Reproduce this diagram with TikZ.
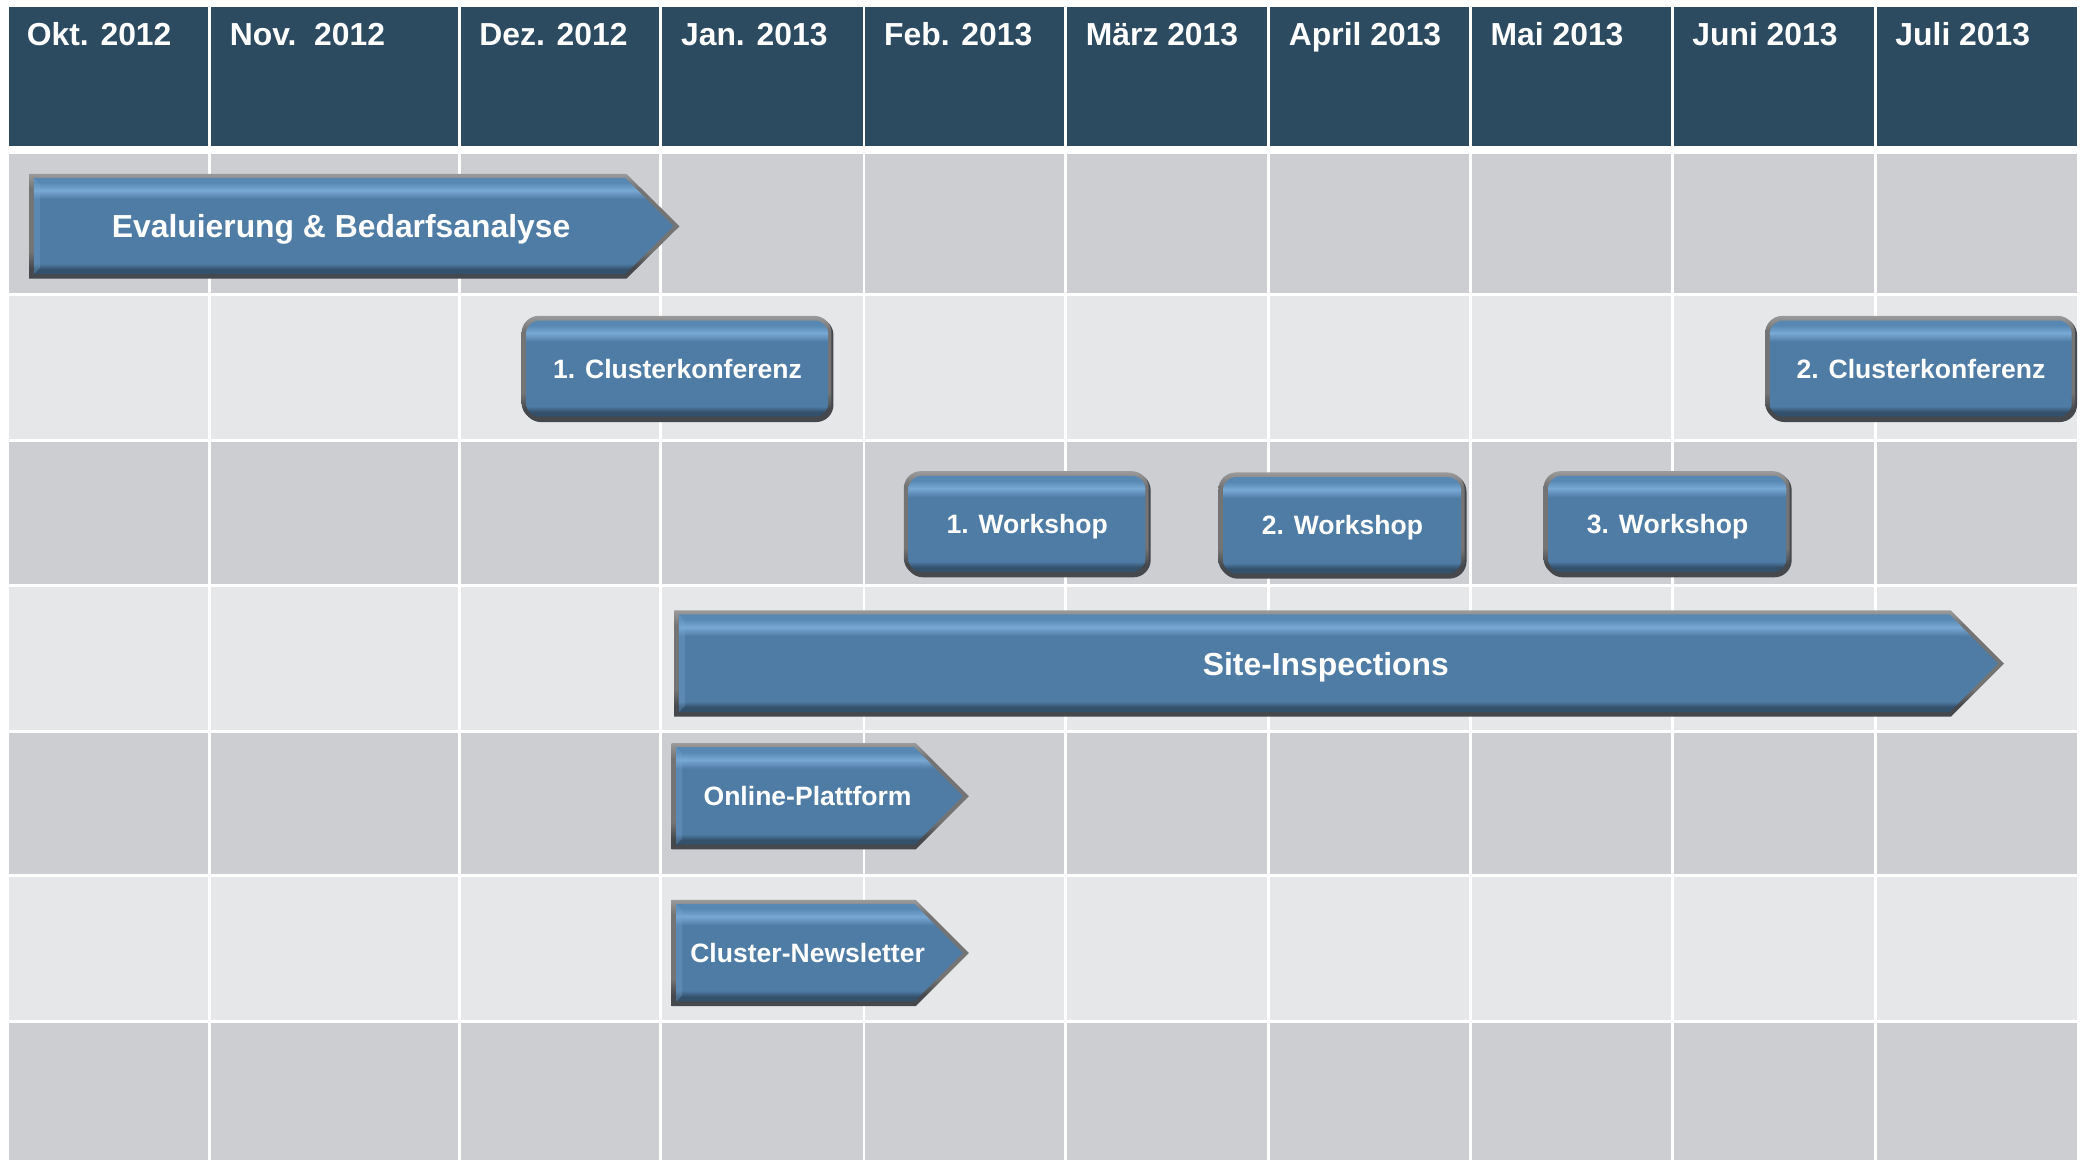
\documentclass[tikz,border=0pt]{standalone}
\usepackage{fontspec}
\setmainfont{Liberation Sans}
\definecolor{hdr}{HTML}{2C4A60}
\definecolor{rowA}{HTML}{CDCED2}
\definecolor{rowB}{HTML}{E6E7E9}
\definecolor{bvdark}{HTML}{34516C}
\definecolor{bvmain}{HTML}{4F7CA5}
\definecolor{bvlight}{HTML}{78A8D4}
\definecolor{bvtop}{HTML}{5787B3}
\definecolor{rimtop}{HTML}{9A9A9A}
\definecolor{rimmid}{HTML}{747474}
\definecolor{rimbot}{HTML}{45484D}
\pgfdeclareverticalshading{bevelfill}{100bp}{color(0bp)=(bvdark); color(25bp)=(bvdark); color(27.5bp)=(bvdark); color(30.5bp)=(bvmain); color(64bp)=(bvmain); color(68.5bp)=(bvlight); color(72.5bp)=(bvtop); color(75bp)=(bvtop); color(100bp)=(bvtop)}
\pgfdeclareverticalshading{rimfill}{100bp}{color(0bp)=(rimbot); color(25bp)=(rimbot); color(30bp)=(rimbot); color(38bp)=(rimmid); color(68bp)=(rimmid); color(75bp)=(rimtop); color(100bp)=(rimtop)}
\newcommand\chevshape[5]{% left, top, body end, tip, bottom
  \shade[shading=rimfill] (#1,#2) -- (#3,#2) -- (#4,{(#2+#5)/2}) -- (#3,#5) -- (#1,#5) -- cycle;
  \shade[shading=bevelfill] ({#1+3.5},{#2+3}) -- ({#3-1},{#2+3}) -- ({#4-4.5},{(#2+#5)/2}) -- ({#3-1},{#5-3.5}) -- ({#1+3.5},{#5-3.5}) -- cycle;
  \fill[bvlight, opacity=.3] ({#1+3.5},{#2+3}) -- ({#1+8},{#2+8}) -- ({#1+8},{#5-8}) -- ({#1+3.5},{#5-3.5}) -- cycle;
}
\newcommand\rbox[4]{% left, top, right, bottom
  \fill[rimbot, rounded corners=13pt] ({#1+1.5},{#2+1.5}) rectangle (#3,#4);
  \shade[shading=rimfill, rounded corners=13pt] (#1,#2) rectangle ({#3-1.5},{#4-1.5});
  \shade[shading=bevelfill, rounded corners=10pt] ({#1+3.5},{#2+3.5}) rectangle ({#3-4},{#4-4});
}
\tikzset{
  hdrtxt/.style={text=white, font=\bfseries\fontsize{24}{28}\selectfont, anchor=base west, inner sep=0pt},
  bigtxt/.style={text=white, font=\bfseries\fontsize{24}{28}\selectfont, anchor=base, inner sep=0pt},
  smalltxt/.style={text=white, font=\bfseries\fontsize{20}{24}\selectfont, anchor=base, inner sep=0pt},
  sep/.style={white, line width=2.2pt}
}
\begin{document}
\begin{tikzpicture}[x=1pt, y=-1pt]
\useasboundingbox (0,0) rectangle (1568,874);
\fill[white] (0,0) rectangle (1568,874);
% header
\fill[hdr] (7,5) rectangle (1565,110);
% rows
\fill[rowA] (7,116) rectangle (1565,222);
\fill[rowB] (7,222) rectangle (1565,332);
\fill[rowA] (7,332) rectangle (1565,441);
\fill[rowB] (7,441) rectangle (1565,551);
\fill[rowA] (7,551) rectangle (1565,660);
\fill[rowB] (7,660) rectangle (1565,770);
\fill[rowA] (7,770) rectangle (1565,874);
\foreach \x in {158,346,498,651,803,956,1108,1260,1413} \draw[sep] (\x,5) -- (\x,874);
\foreach \y in {222,332,441,551,660,770} \draw[sep] (7,\y) -- (1565,\y);
% header labels
\node[hdrtxt] (m1) at (20,34.5) {Okt. 2012};
\node[hdrtxt] (m2) at (173,34.5) {Nov.\ \ 2012};
\node[hdrtxt] (m3) at (361,34.5) {Dez. 2012};
\node[hdrtxt] (m4) at (513,34.5) {Jan. 2013};
\node[hdrtxt] (m5) at (666,34.5) {Feb. 2013};
\node[hdrtxt] (m6) at (818,34.5) {März 2013};
\node[hdrtxt] (m7) at (971,34.5) {April 2013};
\node[hdrtxt] (m8) at (1123,34.5) {Mai 2013};
\node[hdrtxt] (m9) at (1275,34.5) {Juni 2013};
\node[hdrtxt] (m10) at (1428,34.5) {Juli 2013};
% bars
\chevshape{22}{131}{472}{512}{210}
\node[bigtxt] (eval) at (257,179) {Evaluierung \& Bedarfsanalyse};
\rbox{393}{238}{628}{318}
\node[smalltxt] (ck1) at (510.5,285) {1. Clusterkonferenz};
\rbox{1330}{238}{1565}{318}
\node[smalltxt] (ck2) at (1447.5,285) {2. Clusterkonferenz};
\rbox{681}{355}{867}{435}
\node[smalltxt] (ws1) at (774,402) {1. Workshop};
\rbox{918}{356}{1105}{436}
\node[smalltxt] (ws2) at (1011.5,403) {2. Workshop};
\rbox{1163}{355}{1350}{435}
\node[smalltxt] (ws3) at (1256.5,402) {3. Workshop};
\chevshape{508}{460}{1470}{1510}{540}
\node[bigtxt] (site) at (999,508.6) {Site-Inspections};
\chevshape{506}{560}{690}{730}{640}
\node[smalltxt] (online) at (608.5,607) {Online-Plattform};
\chevshape{506}{678}{690}{730}{758}
\node[smalltxt] (news) at (608.5,725) {Cluster-Newsletter};
\end{tikzpicture}
\end{document}
